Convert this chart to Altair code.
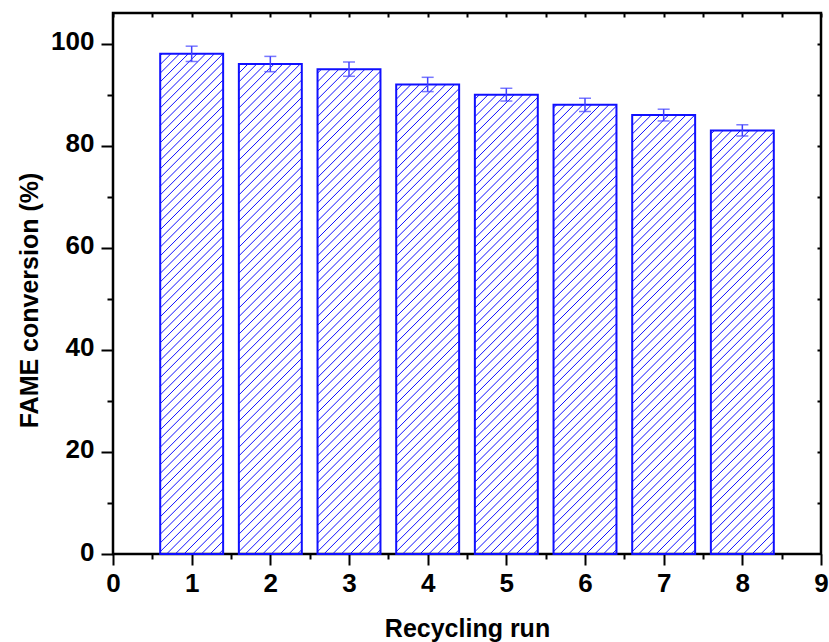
import altair as alt
import numpy as np
import pandas as pd

# Catalyst recycling: FAME conversion per run
runs = [1, 2, 3, 4, 5, 6, 7, 8]
conversion = [98, 96, 95, 92, 90, 88, 86, 83]
error = [1.5, 1.5, 1.4, 1.4, 1.25, 1.3, 1.15, 1.1]

x_major = [0, 1, 2, 3, 4, 5, 6, 7, 8, 9]
x_minor = [0.5, 1.5, 2.5, 3.5, 4.5, 5.5, 6.5, 7.5, 8.5]
x_top = [i * 0.5 for i in range(19)]
y_major = [0, 20, 40, 60, 80, 100]
y_minor = [10, 30, 50, 70, 90]
y_right = [10, 20, 30, 40, 50, 60, 70, 80, 90, 100]

X_DOMAIN = [0, 9]
Y_DOMAIN = [0, 106]
PLOT_W, PLOT_H = 708, 541
BAR_HALF = 0.4          # half bar width, in run units
HATCH_STEP = 8.7        # spacing of the diagonal hatch, in pixels
BLUE = "#1010ff"
FONT = "Liberation Sans"

df = pd.DataFrame({"run": runs, "conv": conversion, "err": error})

# Diagonal "/" hatch segments, clipped to each bar rectangle.
px_x = PLOT_W / (X_DOMAIN[1] - X_DOMAIN[0])
px_y = PLOT_H / (Y_DOMAIN[1] - Y_DOMAIN[0])
segs = []
for r, v in zip(runs, conversion):
    w = 2 * BAR_HALF * px_x
    h = v * px_y
    b = -w + HATCH_STEP / 2
    while b < h:
        x0 = max(0.0, -b)
        x1 = min(w, h - b)
        if x1 > x0:
            segs.append({
                "hx0": r - BAR_HALF + x0 / px_x, "hy0": (x0 + b) / px_y,
                "hx1": r - BAR_HALF + x1 / px_x, "hy1": (x1 + b) / px_y,
            })
        b += HATCH_STEP
hatch_df = pd.DataFrame(segs)

xs = alt.Scale(domain=X_DOMAIN, nice=False, zero=False)
ys = alt.Scale(domain=Y_DOMAIN, nice=False)

lab = dict(labelFont=FONT, labelFontSize=26, labelFontWeight="bold", labelColor="black")
ttl = dict(titleFont=FONT, titleFontSize=25, titleFontWeight="bold", titleColor="black")
tk = dict(tickColor="black", tickWidth=2, domain=False, grid=False)

ax_bottom = alt.Axis(orient="bottom", values=x_major, format="d", title="Recycling run",
                     tickSize=11, labelPadding=5, labelFlush=False, labelOverlap=False,
                     titleY=82, titleBaseline="alphabetic", **lab, **ttl, **tk)
ax_left = alt.Axis(orient="left", values=y_major, format="d", title="FAME conversion (%)",
                   tickSize=12, labelPadding=7, labelOffset=-2, labelOverlap=False,
                   titleX=-84, titleY=287, titleAngle=270, titleAlign="center",
                   titleBaseline="middle", **lab, **ttl, **tk)
ax_bottom_minor = alt.Axis(orient="bottom", values=x_minor, labels=False, title=None,
                           tickSize=5, **tk)
ax_left_minor = alt.Axis(orient="left", values=y_minor, labels=False, title=None,
                         tickSize=6, **tk)
ax_top = alt.Axis(orient="top", values=x_top, labels=False, title=None,
                  tickSize=4, offset=-4, **tk)
ax_right = alt.Axis(orient="right", values=y_right, labels=False, title=None,
                    tickSize=4, offset=-4, **tk)

hatch = alt.Chart(hatch_df).mark_rule(color=BLUE, strokeWidth=1).encode(
    x=alt.X("hx0:Q", scale=xs, axis=ax_bottom),
    x2="hx1:Q",
    y=alt.Y("hy0:Q", scale=ys, axis=ax_left),
    y2="hy1:Q",
)

outline = alt.Chart(df).transform_calculate(
    left=f"datum.run - {BAR_HALF}", right=f"datum.run + {BAR_HALF}"
).mark_rect(fill="transparent", stroke=BLUE, strokeWidth=2).encode(
    x=alt.X("left:Q", scale=xs, axis=ax_bottom_minor),
    x2="right:Q",
    y=alt.Y("conv:Q", scale=ys, axis=ax_left_minor),
    y2=alt.datum(0),
)

stems = alt.Chart(df).transform_calculate(
    lo="datum.conv - datum.err", hi="datum.conv + datum.err"
).mark_rule(color="#4040ff", strokeWidth=1.5).encode(
    x=alt.X("run:Q", scale=xs, axis=ax_top),
    y=alt.Y("lo:Q", scale=ys, axis=ax_right),
    y2="hi:Q",
)

caps = alt.Chart(df).transform_calculate(
    lo="datum.conv - datum.err", hi="datum.conv + datum.err"
).transform_fold(["lo", "hi"], as_=["end", "val"]).mark_tick(
    color="#4040ff", orient="horizontal", size=12, thickness=1.5
).encode(
    x=alt.X("run:Q", scale=xs, axis=None),
    y=alt.Y("val:Q", scale=ys, axis=None),
)

chart = alt.layer(hatch, outline, stems, caps).resolve_axis(
    x="independent", y="independent"
).properties(
    width=PLOT_W,
    height=PLOT_H,
    padding={"left": 113, "top": 13, "right": 8, "bottom": 88},
    autosize=alt.AutoSizeParams(type="none"),
    background="white",
).configure_view(stroke="black", strokeWidth=2.5)

chart.save("out.html", embed_options={"renderer": "svg", "actions": False})
